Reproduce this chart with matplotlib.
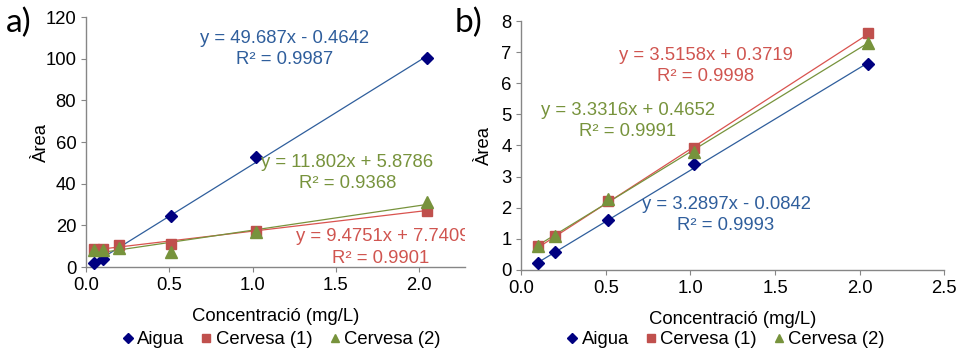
import matplotlib
matplotlib.use("Agg")
import matplotlib.pyplot as plt
import numpy as np
from matplotlib.ticker import FormatStrFormatter

plt.rcParams['font.family'] = ['Liberation Sans', 'DejaVu Sans']

# ---- data panel a ----
a_x_aigua = [0.05, 0.10, 0.51, 1.02, 2.05]
a_y_aigua = [2.0, 4.0, 24.3, 53.0, 100.3]
a_x_cerv1 = [0.05, 0.10, 0.20, 0.51, 1.02, 2.05]
a_y_cerv1 = [8.6, 8.6, 10.4, 11.2, 17.2, 27.0]
a_x_cerv2 = [0.05, 0.10, 0.20, 0.51, 1.02, 2.05]
a_y_cerv2 = [8.2, 8.3, 9.0, 7.2, 17.0, 31.0]
a_fit = {"Aigua": (49.687, -0.4642), "Cervesa (1)": (9.4751, 7.7409), "Cervesa (2)": (11.802, 5.8786)}
a_eq_text = {"Aigua": "y = 49.687x - 0.4642\nR² = 0.9987",
             "Cervesa (1)": "y = 9.4751x + 7.7409\nR² = 0.9901",
             "Cervesa (2)": "y = 11.802x + 5.8786\nR² = 0.9368"}

# ---- data panel b ----
b_x = [0.10, 0.20, 0.51, 1.02, 2.05]
b_y_aigua = [0.21, 0.57, 1.60, 3.40, 6.61]
b_y_cerv1 = [0.76, 1.10, 2.22, 3.93, 7.62]
b_y_cerv2 = [0.78, 1.10, 2.28, 3.80, 7.30]
b_fit = {"Aigua": (3.2897, -0.0842), "Cervesa (1)": (3.5158, 0.3719), "Cervesa (2)": (3.3316, 0.4652)}
b_eq_text = {"Aigua": "y = 3.2897x - 0.0842\nR² = 0.9993",
             "Cervesa (1)": "y = 3.5158x + 0.3719\nR² = 0.9998",
             "Cervesa (2)": "y = 3.3316x + 0.4652\nR² = 0.9991"}

series_names = ["Aigua", "Cervesa (1)", "Cervesa (2)"]
marker_style = {"Aigua": dict(marker="D", color="#000080", ms=5.8),
                "Cervesa (1)": dict(marker="s", color="#C0504D", ms=7),
                "Cervesa (2)": dict(marker="^", color="#77933C", ms=8)}
line_color = {"Aigua": "#2F5E9C", "Cervesa (1)": "#D9534F", "Cervesa (2)": "#77933C"}
text_color = {"Aigua": "#2F5E9C", "Cervesa (1)": "#D05550", "Cervesa (2)": "#77933C"}

FS = 13.3

fig = plt.figure(figsize=(9.6, 3.5), dpi=100)
axA = fig.add_axes([0.0896, 0.237, 0.3948, 0.7144])
axB = fig.add_axes([0.543, 0.2286, 0.4406, 0.7114])


def style_axis(ax, ylabelpad):
    for s in ["top", "right"]:
        ax.spines[s].set_visible(False)
    for s in ["left", "bottom"]:
        ax.spines[s].set_color("#868686")
        ax.spines[s].set_linewidth(1.0)
    ax.tick_params(axis="both", colors="#868686", labelcolor="black", labelsize=FS,
                   length=3.5, direction="out")
    ax.set_xlabel("Concentració (mg/L)", fontsize=FS, labelpad=10)
    ax.set_ylabel("Àrea", fontsize=FS, labelpad=ylabelpad)
    ax.xaxis.set_major_formatter(FormatStrFormatter("%.1f"))


def draw(ax, xs, ys, fits):
    for name in series_names:
        x = np.array(xs[name])
        m, c = fits[name]
        xl = np.array([x.min(), x.max()])
        ax.plot(xl, m * xl + c, color=line_color[name], lw=0.9, zorder=2)
    for name in series_names:
        st = marker_style[name]
        ax.plot(xs[name], ys[name], ls="none", marker=st["marker"], color=st["color"],
                ms=st["ms"], mec=st["color"], zorder=3, label=name, clip_on=False)


LS = 1.3

# panel a
draw(axA,
     {"Aigua": a_x_aigua, "Cervesa (1)": a_x_cerv1, "Cervesa (2)": a_x_cerv2},
     {"Aigua": a_y_aigua, "Cervesa (1)": a_y_cerv1, "Cervesa (2)": a_y_cerv2},
     a_fit)
axA.set_xlim(0, 2.276)
axA.set_ylim(0, 120)
axA.set_xticks([0, 0.5, 1.0, 1.5, 2.0])
axA.set_yticks(range(0, 121, 20))
style_axis(axA, -3)
axA.text(1.19, 104.5, a_eq_text["Aigua"], color=text_color["Aigua"], fontsize=FS,
         ha="center", va="center", linespacing=LS)
axA.text(1.57, 45, a_eq_text["Cervesa (2)"], color=text_color["Cervesa (2)"], fontsize=FS,
         ha="center", va="center", linespacing=LS)
axA.text(1.26, 14.5, a_eq_text["Cervesa (1)"].split("\n")[0], color=text_color["Cervesa (1)"],
         fontsize=FS, ha="left", va="center", clip_on=True)
axA.text(1.77, 4.3, a_eq_text["Cervesa (1)"].split("\n")[1], color=text_color["Cervesa (1)"],
         fontsize=FS, ha="center", va="center", clip_on=True)

# panel b
draw(axB,
     {"Aigua": b_x, "Cervesa (1)": b_x, "Cervesa (2)": b_x},
     {"Aigua": b_y_aigua, "Cervesa (1)": b_y_cerv1, "Cervesa (2)": b_y_cerv2},
     b_fit)
axB.set_xlim(0, 2.5)
axB.set_ylim(0, 8)
axB.set_xticks([0, 0.5, 1.0, 1.5, 2.0, 2.5])
axB.set_yticks(range(0, 9))
style_axis(axB, 6)
axB.text(1.09, 6.55, b_eq_text["Cervesa (1)"], color=text_color["Cervesa (1)"], fontsize=FS,
         ha="center", va="center", linespacing=LS)
axB.text(0.63, 4.8, b_eq_text["Cervesa (2)"], color=text_color["Cervesa (2)"], fontsize=FS,
         ha="center", va="center", linespacing=LS)
axB.text(1.21, 1.78, b_eq_text["Aigua"], color=text_color["Aigua"], fontsize=FS,
         ha="center", va="center", linespacing=LS)

# legends (figure coordinates)
for ax, xc in [(axA, 0.293), (axB, 0.756)]:
    handles, labels = ax.get_legend_handles_labels()
    fig.legend(handles, labels, loc="center", bbox_to_anchor=(xc, 0.029), ncol=3,
               frameon=False, fontsize=FS, handlelength=0.6, handletextpad=0.2,
               columnspacing=0.9, borderaxespad=0, borderpad=0, markerscale=0.8)

fig.text(0.006, 0.935, "a)", fontsize=24, va="center", family=["Lato", "DejaVu Sans"])
fig.text(0.474, 0.935, "b)", fontsize=24, va="center", family=["Lato", "DejaVu Sans"])

fig.savefig("out.png", dpi=100)
